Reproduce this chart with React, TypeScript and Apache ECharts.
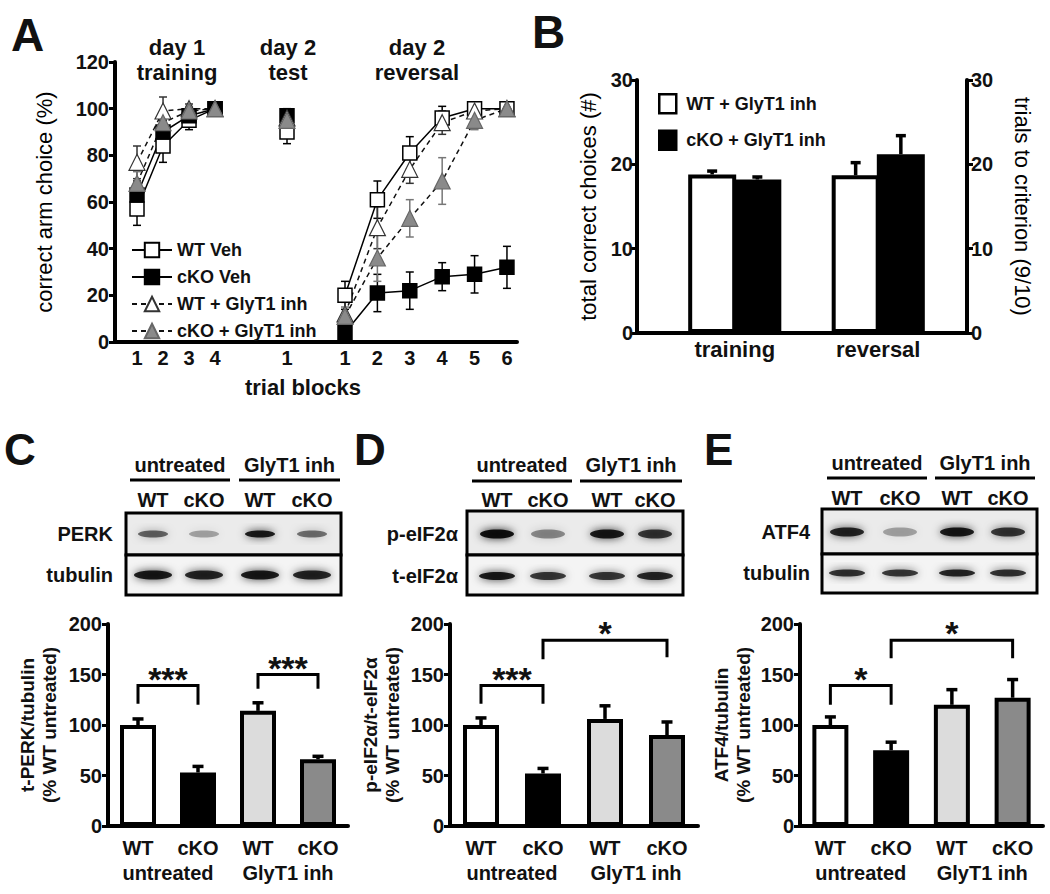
import React, { useEffect, useRef } from 'react';
import * as echarts from 'echarts';

const FONT = '"Liberation Sans", Arial, Helvetica, sans-serif';
const INK = '#111111';

// ---------- Panel A data ----------
const groupNames = ['WT Veh', 'cKO Veh', 'WT + GlyT1 inh', 'cKO + GlyT1 inh'];
const trainingBlocks = [1, 2, 3, 4];
const testBlocks = [1];
const reversalBlocks = [1, 2, 3, 4, 5, 6];

const wtVehTraining = [57, 84, 95, 100];
const wtVehTrainingErr = [7, 7, 4, 1];
const wtVehTest = [90];
const wtVehTestErr = [5];
const wtVehReversal = [20, 61, 81, 96, 100, 100];
const wtVehReversalErr = [6, 8, 7, 5, 2, 1];

const ckoVehTraining = [63, 90, 97, 100];
const ckoVehTrainingErr = [6, 5, 3, 1];
const ckoVehTest = [97];
const ckoVehTestErr = [3];
const ckoVehReversal = [4, 21, 22, 28, 29, 32];
const ckoVehReversalErr = [4, 8, 8, 6, 8, 9];

const wtInhTraining = [77, 99, 100, 100];
const wtInhTrainingErr = [7, 6, 2, 1];
const wtInhTest = [96];
const wtInhTestErr = [3];
const wtInhReversal = [12, 49, 74, 94, 99, 100];
const wtInhReversalErr = [5, 9, 6, 5, 3, 1];

const ckoInhTraining = [68, 94, 99, 100];
const ckoInhTrainingErr = [5, 5, 2, 1];
const ckoInhTest = [95];
const ckoInhTestErr = [3];
const ckoInhReversal = [11, 36, 53, 69, 95, 100];
const ckoInhReversalErr = [4, 10, 8, 10, 4, 1];

// ---------- Panel B data ----------
const bCategories = ['training', 'reversal'];
const bWtInh = [18.8, 18.7];
const bWtInhErr = [0.4, 1.5];
const bCkoInh = [18.2, 21.2];
const bCkoInhErr = [0.3, 2.2];

// ---------- Panels C, D, E data ----------
const westernCategories = ['WT untreated', 'cKO untreated', 'WT GlyT1 inh', 'cKO GlyT1 inh'];
const treatmentGroups = ['untreated', 'GlyT1 inh'];
const barColors = ['#ffffff', '#000000', '#dcdcdc', '#8a8a8a'];

const perkValues = [100, 53, 114, 66];
const perkErr = [6, 6, 8, 3];
const perkBrackets = [
  { from: 0, to: 1, top: 139, leftEnd: 121, rightEnd: 120, label: '***' },
  { from: 2, to: 3, top: 150, leftEnd: 136, rightEnd: 136, label: '***' },
];

const eif2Values = [100, 52, 106, 90];
const eif2Err = [7, 5, 13, 13];
const eif2Brackets = [
  { from: 0, to: 1, top: 139, leftEnd: 121, rightEnd: 121, label: '***' },
  { from: 1, to: 3, top: 184, leftEnd: 165, rightEnd: 167, label: '*' },
];

const atf4Values = [100, 75, 120, 127];
const atf4Err = [8, 8, 15, 18];
const atf4Brackets = [
  { from: 0, to: 1, top: 139, leftEnd: 120, rightEnd: 120, label: '*' },
  { from: 1, to: 3, top: 184, leftEnd: 166, rightEnd: 166, label: '*' },
];

// blot band intensities (lanes: WT, cKO, WT, cKO)
const perkBands = [0.55, 0.3, 0.85, 0.5];
const perkTubulinBands = [0.85, 0.8, 0.85, 0.8];
const pEif2Bands = [0.9, 0.4, 0.85, 0.72];
const tEif2Bands = [0.85, 0.72, 0.72, 0.8];
const atf4Bands = [0.8, 0.3, 0.85, 0.72];
const atf4TubulinBands = [0.75, 0.72, 0.8, 0.75];

// ---------- helpers ----------
function zip(xs: number[], ys: number[]) {
  return xs.map((x, i) => [x, ys[i]]);
}

function lineErrSeries(xs: number[], ys: number[], errs: number[], axis: number, color: string) {
  return {
    type: 'custom',
    xAxisIndex: axis,
    yAxisIndex: axis,
    silent: true,
    z: 1,
    encode: { x: 0, y: [1, 2] },
    data: xs.map((x, i) => [x, ys[i], errs[i]]),
    renderItem: (params: any, api: any) => {
      const x = api.value(0);
      const y = api.value(1);
      const e = api.value(2);
      const t = api.coord([x, y + e]);
      const b = api.coord([x, y - e]);
      const w = 4;
      const st = { stroke: color, lineWidth: 1.5 };
      return {
        type: 'group',
        children: [
          { type: 'line', shape: { x1: t[0], y1: t[1], x2: b[0], y2: b[1] }, style: st },
          { type: 'line', shape: { x1: t[0] - w, y1: t[1], x2: t[0] + w, y2: t[1] }, style: st },
          { type: 'line', shape: { x1: b[0] - w, y1: b[1], x2: b[0] + w, y2: b[1] }, style: st },
        ],
      };
    },
  };
}

function barErrSeries(vals: number[], errs: number[], xAxisIndex: number, yAxisIndex: number, offset: number, cap: number) {
  return {
    type: 'custom',
    xAxisIndex,
    yAxisIndex,
    silent: true,
    z: 3,
    encode: { x: 0, y: [1, 2] },
    data: vals.map((v, i) => [i, v, errs[i]]),
    renderItem: (params: any, api: any) => {
      const i = api.value(0);
      const v = api.value(1);
      const e = api.value(2);
      const b = api.coord([i, v]);
      const t = api.coord([i, v + e]);
      const x = b[0] + offset;
      const st = { stroke: '#000', lineWidth: 3.5 };
      return {
        type: 'group',
        children: [
          { type: 'line', shape: { x1: x, y1: b[1], x2: x, y2: t[1] }, style: st },
          { type: 'line', shape: { x1: x - cap / 2, y1: t[1], x2: x + cap / 2, y2: t[1] }, style: st },
        ],
      };
    },
  };
}

function bracketSeries(brackets: any[], xAxisIndex: number, yAxisIndex: number) {
  return {
    type: 'custom',
    xAxisIndex,
    yAxisIndex,
    silent: true,
    z: 5,
    encode: { x: [0, 1], y: [2, 3, 4] },
    data: brackets.map((b) => [b.from, b.to, b.top, b.leftEnd, b.rightEnd]),
    renderItem: (params: any, api: any) => {
      const br = brackets[params.dataIndex];
      const pL = api.coord([api.value(0), api.value(3)]);
      const pLT = api.coord([api.value(0), api.value(2)]);
      const pRT = api.coord([api.value(1), api.value(2)]);
      const pR = api.coord([api.value(1), api.value(4)]);
      return {
        type: 'group',
        children: [
          {
            type: 'polyline',
            shape: { points: [pL, pLT, pRT, pR] },
            style: { stroke: '#000', lineWidth: 3, fill: null },
          },
          {
            type: 'text',
            style: {
              text: br.label,
              x: (pLT[0] + pRT[0]) / 2,
              y: pLT[1] - 7,
              align: 'center',
              verticalAlign: 'middle',
              fontSize: 34,
              fontWeight: 'bold',
              fontFamily: FONT,
              fill: INK,
            },
          },
        ],
      };
    },
  };
}

function txt(text: string, x: number, y: number, size: number, align = 'center', weight = 'bold', extra: any = {}) {
  return {
    type: 'text',
    silent: true,
    style: {
      text,
      x,
      y,
      align,
      verticalAlign: 'middle',
      fontSize: size,
      fontWeight: weight,
      fontFamily: FONT,
      fill: INK,
      ...extra,
    },
  };
}

function blot(cfg: any) {
  const els: any[] = [];
  const [u0, u1] = cfg.untreated;
  const [g0, g1] = cfg.glyt;
  els.push(txt('untreated', (u0 + u1) / 2, cfg.headerY, 20));
  els.push(txt('GlyT1 inh', (g0 + g1) / 2, cfg.headerY, 20));
  els.push({ type: 'line', silent: true, shape: { x1: u0, y1: cfg.underlineY, x2: u1, y2: cfg.underlineY }, style: { stroke: '#000', lineWidth: 3 } });
  els.push({ type: 'line', silent: true, shape: { x1: g0, y1: cfg.underlineY, x2: g1, y2: cfg.underlineY }, style: { stroke: '#000', lineWidth: 3 } });
  const laneNames = ['WT', 'cKO', 'WT', 'cKO'];
  cfg.lanes.forEach((lx: number, i: number) => els.push(txt(laneNames[i], lx, cfg.laneY, 20)));
  els.push({ type: 'rect', silent: true, shape: { x: cfg.x0, y: cfg.top, width: cfg.x1 - cfg.x0, height: cfg.mid - cfg.top }, style: { fill: '#ebebeb', stroke: '#000', lineWidth: 3 } });
  els.push({ type: 'rect', silent: true, shape: { x: cfg.x0, y: cfg.mid, width: cfg.x1 - cfg.x0, height: cfg.bottom - cfg.mid }, style: { fill: '#f4f4f4', stroke: '#000', lineWidth: 3 } });
  cfg.lanes.forEach((lx: number, i: number) => {
    const a1 = cfg.topBands[i];
    els.push({ type: 'ellipse', silent: true, shape: { cx: lx, cy: cfg.topBandY, rx: cfg.topRx, ry: cfg.topRy }, style: { fill: `rgba(0,0,0,${a1})`, shadowBlur: 8, shadowColor: `rgba(0,0,0,${a1})` } });
    const a2 = cfg.bottomBands[i];
    els.push({ type: 'ellipse', silent: true, shape: { cx: lx, cy: cfg.bottomBandY, rx: cfg.bottomRx, ry: cfg.bottomRy }, style: { fill: `rgba(0,0,0,${a2})`, shadowBlur: 8, shadowColor: `rgba(0,0,0,${a2})` } });
  });
  els.push(txt(cfg.topLabel, cfg.labelRight, cfg.topBandY, 20, 'right'));
  els.push(txt(cfg.bottomLabel, cfg.labelRight, cfg.bottomBandY, 20, 'right'));
  return els;
}

const axisLine4 = { show: true, lineStyle: { color: '#000', width: 4 } };
const tick3 = { show: true, length: 6, lineStyle: { color: '#000', width: 3 } };
const tickLabel = { color: INK, fontSize: 20, fontWeight: 'bold', fontFamily: FONT };

function aXAxis(gridIndex: number, min: number, max: number, values: number[]) {
  return {
    type: 'value',
    gridIndex,
    min,
    max,
    axisLine: axisLine4,
    axisTick: { show: false },
    splitLine: { show: false },
    axisLabel: { ...tickLabel, margin: 6, customValues: values },
  };
}

function lineSeries(name: string, axis: number, xs: number[], ys: number[], style: any) {
  return {
    type: 'line',
    name,
    xAxisIndex: axis,
    yAxisIndex: axis,
    data: zip(xs, ys),
    z: 2,
    ...style,
  };
}

const styleWtVeh = {
  symbol: 'rect',
  symbolSize: 14,
  itemStyle: { color: '#ffffff', borderColor: '#000', borderWidth: 1.5 },
  lineStyle: { color: '#000', width: 1.5 },
};
const styleCkoVeh = {
  symbol: 'rect',
  symbolSize: 14,
  itemStyle: { color: '#000000', borderColor: '#000', borderWidth: 1.5 },
  lineStyle: { color: '#000', width: 1.5 },
};
const styleWtInh = {
  symbol: 'triangle',
  symbolSize: 16,
  itemStyle: { color: '#ffffff', borderColor: '#333', borderWidth: 1.2 },
  lineStyle: { color: '#111', width: 1.5, type: [5, 4] },
};
const styleCkoInh = {
  symbol: 'triangle',
  symbolSize: 16,
  itemStyle: { color: '#8a8a8a', borderColor: '#666', borderWidth: 1.2 },
  lineStyle: { color: '#111', width: 1.5, type: [5, 4] },
};

function westernAxes(gridIndex: number) {
  return [
    {
      type: 'category',
      gridIndex,
      data: westernCategories,
      axisLine: axisLine4,
      axisTick: { show: false },
      axisLabel: { ...tickLabel, margin: 12, formatter: (v: string) => v.split(' ')[0] },
    },
    {
      type: 'category',
      gridIndex,
      position: 'bottom',
      data: treatmentGroups,
      axisLine: { show: false },
      axisTick: { show: false },
      axisLabel: { ...tickLabel, margin: 37 },
    },
  ];
}

function westernYAxis(gridIndex: number, name: string, nameGap: number) {
  return {
    type: 'value',
    gridIndex,
    min: 0,
    max: 200,
    interval: 50,
    axisLine: axisLine4,
    axisTick: tick3,
    splitLine: { show: false },
    axisLabel: { ...tickLabel, margin: 6 },
    name,
    nameLocation: 'middle',
    nameRotate: 90,
    nameGap,
    nameTextStyle: { color: INK, fontSize: 19, fontWeight: 'bold', fontFamily: FONT, lineHeight: 22 },
  };
}

function westernBars(vals: number[], axis: number, yAxis: number) {
  return {
    type: 'bar',
    xAxisIndex: axis,
    yAxisIndex: yAxis,
    barWidth: 36,
    z: 2,
    data: vals.map((v, i) => ({ value: v, itemStyle: { color: barColors[i], borderColor: '#000', borderWidth: 4 } })),
  };
}

function buildOption() {
  const grid = [
    { left: 115, top: 62, width: 137, height: 280 }, // A training
    { left: 252, top: 62, width: 70, height: 280 }, // A test
    { left: 322, top: 62, width: 195, height: 280 }, // A reversal
    { left: 663, top: 80, width: 287, height: 253 }, // B bars
    { left: 637, top: 80, width: 330, height: 253 }, // B frame
    { left: 108, top: 624, width: 240, height: 202 }, // C
    { left: 450, top: 624, width: 248, height: 202 }, // D
    { left: 800, top: 624, width: 243, height: 202 }, // E
  ].map((g) => ({ ...g, outerBoundsMode: 'none' }));

  const [cX, cG] = westernAxes(5);
  const [dX, dG] = westernAxes(6);
  const [eX, eG] = westernAxes(7);

  const xAxis = [
    aXAxis(0, 0.154, 5.42, trainingBlocks),
    aXAxis(1, 0.5, 1.5, testBlocks),
    aXAxis(2, 0.29, 6.31, reversalBlocks),
    {
      type: 'category',
      gridIndex: 3,
      data: bCategories,
      axisLine: { show: false },
      axisTick: { show: false },
      axisLabel: { ...tickLabel, fontSize: 22, margin: 5 },
    },
    {
      type: 'value',
      gridIndex: 4,
      min: 0,
      max: 1,
      axisLine: axisLine4,
      axisTick: { show: false },
      axisLabel: { show: false },
      splitLine: { show: false },
    },
    cX,
    cG,
    dX,
    dG,
    eX,
    eG,
  ];

  const yAxis = [
    {
      type: 'value',
      gridIndex: 0,
      min: 0,
      max: 120,
      interval: 20,
      axisLine: axisLine4,
      axisTick: tick3,
      splitLine: { show: false },
      axisLabel: { ...tickLabel, margin: 6 },
      name: 'correct arm choice (%)',
      nameLocation: 'middle',
      nameRotate: 90,
      nameGap: 60,
      nameTextStyle: { color: '#000', fontSize: 22, fontFamily: FONT },
    },
    { type: 'value', gridIndex: 1, min: 0, max: 120, show: false },
    { type: 'value', gridIndex: 2, min: 0, max: 120, show: false },
    {
      type: 'value',
      gridIndex: 3,
      position: 'left',
      offset: 26,
      min: 0,
      max: 30,
      interval: 10,
      axisLine: axisLine4,
      axisTick: tick3,
      splitLine: { show: false },
      axisLabel: { ...tickLabel, margin: 4 },
      name: 'total correct choices (#)',
      nameLocation: 'middle',
      nameRotate: 90,
      nameGap: 38,
      nameTextStyle: { color: '#000', fontSize: 22, fontFamily: FONT },
    },
    {
      type: 'value',
      gridIndex: 3,
      position: 'right',
      offset: 17,
      min: 0,
      max: 30,
      interval: 10,
      axisLine: axisLine4,
      axisTick: tick3,
      splitLine: { show: false },
      axisLabel: { ...tickLabel, margin: 4 },
      name: 'trials to criterion (9/10)',
      nameLocation: 'middle',
      nameRotate: -90,
      nameGap: 44,
      nameTextStyle: { color: '#000', fontSize: 22, fontFamily: FONT },
    },
    { type: 'value', gridIndex: 4, min: 0, max: 30, show: false },
    westernYAxis(5, 't-PERK/tubulin\n(% WT untreated)', 48),
    westernYAxis(6, 'p-eIF2α/t-eIF2α\n(% WT untreated)', 47),
    westernYAxis(7, 'ATF4/tubulin\n(% WT untreated)', 46),
  ];

  const series: any[] = [
    // Panel A lines (first occurrence of each name drives the legend)
    lineSeries('WT Veh', 0, trainingBlocks, wtVehTraining, styleWtVeh),
    lineSeries('cKO Veh', 0, trainingBlocks, ckoVehTraining, styleCkoVeh),
    lineSeries('WT + GlyT1 inh', 0, trainingBlocks, wtInhTraining, styleWtInh),
    lineSeries('cKO + GlyT1 inh', 0, trainingBlocks, ckoInhTraining, styleCkoInh),
    lineSeries('WT Veh', 1, testBlocks, wtVehTest, styleWtVeh),
    lineSeries('cKO Veh', 1, testBlocks, ckoVehTest, styleCkoVeh),
    lineSeries('WT + GlyT1 inh', 1, testBlocks, wtInhTest, styleWtInh),
    lineSeries('cKO + GlyT1 inh', 1, testBlocks, ckoInhTest, styleCkoInh),
    lineSeries('WT Veh', 2, reversalBlocks, wtVehReversal, styleWtVeh),
    lineSeries('cKO Veh', 2, reversalBlocks, ckoVehReversal, styleCkoVeh),
    lineSeries('WT + GlyT1 inh', 2, reversalBlocks, wtInhReversal, styleWtInh),
    lineSeries('cKO + GlyT1 inh', 2, reversalBlocks, ckoInhReversal, styleCkoInh),
    lineErrSeries(trainingBlocks, wtVehTraining, wtVehTrainingErr, 0, '#000'),
    lineErrSeries(trainingBlocks, ckoVehTraining, ckoVehTrainingErr, 0, '#000'),
    lineErrSeries(trainingBlocks, wtInhTraining, wtInhTrainingErr, 0, '#333'),
    lineErrSeries(trainingBlocks, ckoInhTraining, ckoInhTrainingErr, 0, '#777'),
    lineErrSeries(testBlocks, wtVehTest, wtVehTestErr, 1, '#000'),
    lineErrSeries(testBlocks, ckoVehTest, ckoVehTestErr, 1, '#000'),
    lineErrSeries(testBlocks, wtInhTest, wtInhTestErr, 1, '#333'),
    lineErrSeries(testBlocks, ckoInhTest, ckoInhTestErr, 1, '#777'),
    lineErrSeries(reversalBlocks, wtVehReversal, wtVehReversalErr, 2, '#000'),
    lineErrSeries(reversalBlocks, ckoVehReversal, ckoVehReversalErr, 2, '#000'),
    lineErrSeries(reversalBlocks, wtInhReversal, wtInhReversalErr, 2, '#333'),
    lineErrSeries(reversalBlocks, ckoInhReversal, ckoInhReversalErr, 2, '#777'),
    // Panel B
    {
      type: 'bar',
      name: 'WT + GlyT1 inh (B)',
      xAxisIndex: 3,
      yAxisIndex: 3,
      barWidth: 48,
      barGap: '-6%',
      z: 2,
      data: bWtInh,
      itemStyle: { color: '#ffffff', borderColor: '#000', borderWidth: 4 },
    },
    {
      type: 'bar',
      name: 'cKO + GlyT1 inh (B)',
      xAxisIndex: 3,
      yAxisIndex: 3,
      barWidth: 48,
      barGap: '-6%',
      z: 2,
      data: bCkoInh,
      itemStyle: { color: '#000000', borderColor: '#000', borderWidth: 4 },
    },
    barErrSeries(bWtInh, bWtInhErr, 3, 3, -22.6, 10),
    barErrSeries(bCkoInh, bCkoInhErr, 3, 3, 22.6, 10),
    // Panels C, D, E
    westernBars(perkValues, 5, 6),
    barErrSeries(perkValues, perkErr, 5, 6, 0, 11),
    bracketSeries(perkBrackets, 5, 6),
    westernBars(eif2Values, 7, 7),
    barErrSeries(eif2Values, eif2Err, 7, 7, 0, 11),
    bracketSeries(eif2Brackets, 7, 7),
    westernBars(atf4Values, 9, 8),
    barErrSeries(atf4Values, atf4Err, 9, 8, 0, 11),
    bracketSeries(atf4Brackets, 9, 8),
  ];

  const legend = [
    {
      orient: 'vertical',
      left: 126,
      top: 236,
      itemWidth: 40,
      itemHeight: 18,
      itemGap: 9,
      selectedMode: false,
      data: groupNames,
      textStyle: { color: INK, fontSize: 18, fontWeight: 'bold', fontFamily: FONT },
    },
    {
      orient: 'vertical',
      left: 653,
      top: 88,
      itemWidth: 17,
      itemHeight: 19,
      itemGap: 15,
      selectedMode: false,
      icon: 'rect',
      formatter: (n: string) => n.replace(' (B)', ''),
      data: [
        { name: 'WT + GlyT1 inh (B)', itemStyle: { color: '#ffffff', borderColor: '#000', borderWidth: 2.5 } },
        { name: 'cKO + GlyT1 inh (B)', itemStyle: { color: '#000000', borderColor: '#000', borderWidth: 2.5 } },
      ],
      textStyle: { color: INK, fontSize: 18, fontWeight: 'bold', fontFamily: FONT, padding: [0, 0, 0, 5] },
    },
  ];

  const graphics: any[] = [
    txt('A', 11, 35, 46, 'left'),
    txt('B', 532, 32, 46, 'left'),
    txt('C', 4, 449, 44, 'left'),
    txt('D', 354, 449, 44, 'left'),
    txt('E', 704, 449, 44, 'left'),
    txt('day 1\ntraining', 177, 60, 22, 'center', 'bold', { lineHeight: 25 }),
    txt('day 2\ntest', 288, 60, 22, 'center', 'bold', { lineHeight: 25 }),
    txt('day 2\nreversal', 417, 60, 22, 'center', 'bold', { lineHeight: 25 }),
    txt('trial blocks', 303, 387, 22),
    ...blot({
      untreated: [130, 230], glyt: [239, 340], headerY: 465, underlineY: 480,
      lanes: [153, 204, 260, 312], laneY: 500,
      x0: 126, x1: 341, top: 513, mid: 555, bottom: 595,
      topBandY: 534, bottomBandY: 575, topRx: 15, topRy: 3.5, bottomRx: 19, bottomRy: 4.5,
      topBands: perkBands, bottomBands: perkTubulinBands,
      labelRight: 113, topLabel: 'PERK', bottomLabel: 'tubulin',
    }),
    ...blot({
      untreated: [472, 572], glyt: [580, 682], headerY: 465, underlineY: 481,
      lanes: [497, 548, 607, 655], laneY: 500,
      x0: 467, x1: 683, top: 511, mid: 555, bottom: 595,
      topBandY: 534, bottomBandY: 576, topRx: 17, topRy: 4.5, bottomRx: 18, bottomRy: 4,
      topBands: pEif2Bands, bottomBands: tEif2Bands,
      labelRight: 458, topLabel: 'p-eIF2α', bottomLabel: 't-eIF2α',
    }),
    ...blot({
      untreated: [827, 927], glyt: [935, 1035], headerY: 463, underlineY: 478,
      lanes: [847, 900, 957, 1008], laneY: 498,
      x0: 822, x1: 1037, top: 509, mid: 554, bottom: 593,
      topBandY: 532, bottomBandY: 573, topRx: 17, topRy: 4.5, bottomRx: 18, bottomRy: 3.5,
      topBands: atf4Bands, bottomBands: atf4TubulinBands,
      labelRight: 810, topLabel: 'ATF4', bottomLabel: 'tubulin',
    }),
  ];

  return {
    animation: false,
    backgroundColor: '#ffffff',
    textStyle: { fontFamily: FONT },
    grid,
    xAxis,
    yAxis,
    legend,
    series,
    graphic: graphics,
  };
}

export default function App() {
  const ref = useRef<HTMLDivElement>(null);
  useEffect(() => {
    if (!ref.current) return;
    const chart = echarts.init(ref.current, undefined, { renderer: 'svg' });
    chart.setOption(buildOption() as any);
    return () => chart.dispose();
  }, []);
  return (
    <div
      ref={ref}
      style={{ position: 'fixed', left: 0, top: 0, width: 1050, height: 894, background: '#fff' }}
    />
  );
}
